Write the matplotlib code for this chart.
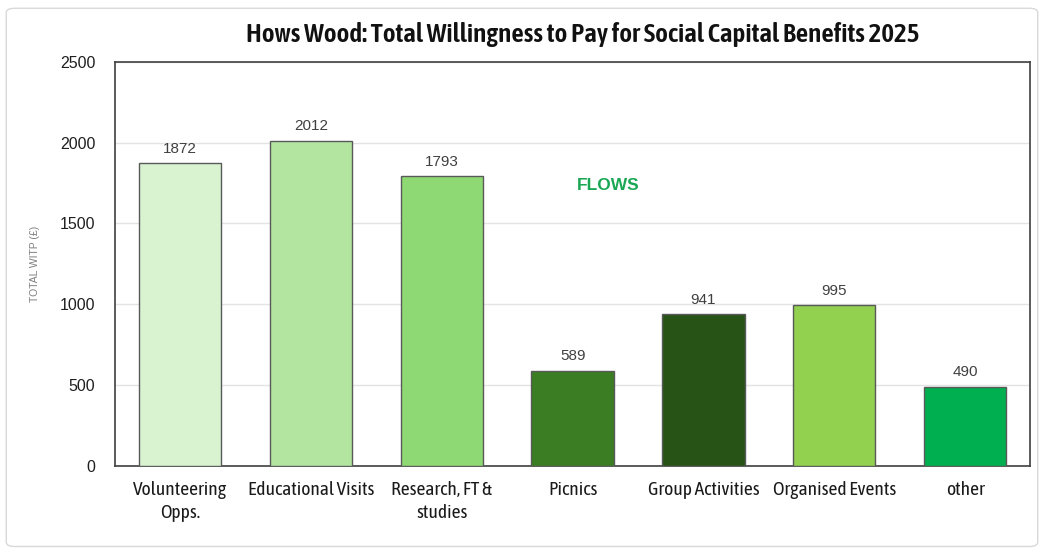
import matplotlib.pyplot as plt
from matplotlib.patches import FancyBboxPatch

# Social capital benefit flows and their total WTP (GBP)
categories = ["Volunteering\nOpps.", "Educational Visits", "Research, FT &\nstudies",
              "Picnics", "Group Activities", "Organised Events", "other"]
values = [1872, 2012, 1793, 589, 941, 995, 490]
colors = ["#d9f2d0", "#b3e5a1", "#8ed973", "#3b7d23", "#275317", "#92d050", "#00b050"]

narrow = ["Asap Condensed", "DejaVu Sans"]
plt.rcParams['font.family'] = ["Liberation Sans", "DejaVu Sans"]

fig = plt.figure(figsize=(10.44, 5.52), dpi=100)
ax = fig.add_axes([0.110, 0.156, 0.877, 0.732])

# light frame round the whole chart
fig.patches.append(FancyBboxPatch((0.006, 0.01), 0.988, 0.975, boxstyle="round,pad=0,rounding_size=0.008",
                                  transform=fig.transFigure, fill=False, ec="#d9d9d9", lw=1.0))

x = range(len(categories))
bars = ax.bar(x, values, width=0.63, color=colors, edgecolor="#595959", linewidth=1.0, zorder=3)
for b, v in zip(bars, values):
    ax.text(b.get_x() + b.get_width() / 2, v + 45, str(v), ha="center", va="bottom",
            fontsize=11, color="#404040")

ax.set_xlim(-0.5, len(categories) - 0.5)
ax.set_ylim(0, 2500)
ax.set_yticks(range(0, 2501, 500))
ax.yaxis.grid(True, color="#e3e3e3", lw=1.0, zorder=0)
ax.tick_params(axis="y", length=0, labelsize=11.5, labelcolor="#1f1f1f", pad=14)
ax.tick_params(axis="x", length=0, pad=11)
ax.set_xticks(list(x))
ax.set_xticklabels(categories, fontsize=14, family=narrow, color="#1a1a1a", linespacing=1.35)
for s in ax.spines.values():
    s.set_color("#404040")
    s.set_linewidth(1.2)

ax.set_ylabel("TOTAL WITP (£)", fontsize=7.5, color="#7f7f7f", labelpad=14)
ax.text(3.27, 1733, "FLOWS", ha="center", va="center", fontsize=12.5, fontweight="bold",
        color="#1aa855")

fig.text(0.558, 0.938, "Hows Wood: Total Willingness to Pay for Social Capital Benefits 2025",
         ha="center", va="center", fontsize=19.5, fontweight=600, family=narrow, color="#111111")

fig.savefig("out.png", dpi=100)
